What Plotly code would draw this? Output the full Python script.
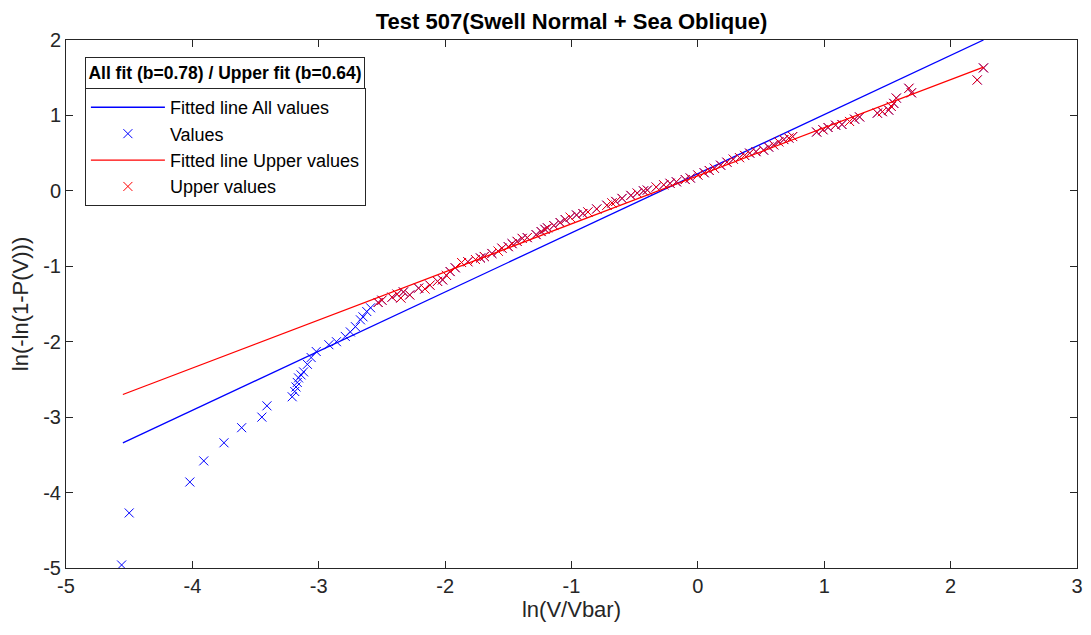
import plotly.graph_objects as go

# Weibull plot data
lower_x = [-4.56, -4.50, -4.02, -3.91, -3.75, -3.61, -3.45, -3.41, -3.21, -3.19,
           -3.18, -3.17, -3.16, -3.14, -3.12, -3.09, -3.06, -3.02, -2.92, -2.86,
           -2.79, -2.75, -2.71, -2.67, -2.65, -2.62, -2.59]
lower_y = [-4.96, -4.27, -3.86, -3.58, -3.34, -3.14, -3.00, -2.85, -2.73, -2.66,
           -2.60, -2.54, -2.48, -2.44, -2.40, -2.30, -2.21, -2.13, -2.04, -2.00,
           -1.93, -1.87, -1.80, -1.71, -1.67, -1.60, -1.55]

upper_x = [-2.53, -2.50, -2.42, -2.38, -2.35, -2.33, -2.28, -2.21, -2.16, -2.12,
           -2.06, -2.02, -1.99, -1.96, -1.92, -1.87, -1.82, -1.76, -1.72, -1.69,
           -1.63, -1.58, -1.55, -1.50, -1.47, -1.43, -1.39, -1.35, -1.28, -1.24,
           -1.21, -1.19, -1.14, -1.09, -1.05, -1.01, -0.96, -0.91, -0.87, -0.80,
           -0.72, -0.68, -0.65, -0.60, -0.53, -0.48, -0.43, -0.40, -0.33, -0.27,
           -0.22, -0.17, -0.10, -0.06, 0.00, 0.05, 0.09, 0.13, 0.18, 0.23,
           0.28, 0.33, 0.37, 0.41, 0.46, 0.52, 0.56, 0.60, 0.64, 0.68,
           0.72, 0.75, 0.94, 0.99, 1.03, 1.09, 1.14, 1.20, 1.24, 1.28,
           1.42, 1.46, 1.51, 1.53, 1.55, 1.57, 1.67, 1.69, 2.21, 2.26]
upper_y = [-1.48, -1.45, -1.41, -1.37, -1.42, -1.34, -1.38, -1.29, -1.30, -1.25,
           -1.20, -1.18, -1.12, -1.07, -1.02, -0.95, -0.94, -0.91, -0.89, -0.87,
           -0.83, -0.80, -0.76, -0.74, -0.70, -0.67, -0.63, -0.62, -0.58, -0.54,
           -0.51, -0.49, -0.46, -0.42, -0.38, -0.35, -0.32, -0.30, -0.28, -0.24,
           -0.19, -0.16, -0.14, -0.10, -0.06, -0.03, 0.00, 0.01, 0.05, 0.08,
           0.10, 0.12, 0.15, 0.17, 0.21, 0.24, 0.27, 0.30, 0.34, 0.38,
           0.42, 0.44, 0.47, 0.50, 0.52, 0.54, 0.58, 0.61, 0.65, 0.68,
           0.70, 0.72, 0.78, 0.81, 0.84, 0.87, 0.88, 0.92, 0.95, 0.98,
           1.03, 1.05, 1.07, 1.12, 1.16, 1.23, 1.36, 1.30, 1.47, 1.63]

# fitted lines (end points)
fit_x = [-4.55, 2.26]
fit_all_y = [-3.34, 2.00]
fit_upper_y = [-2.70, 1.64]

# tick labels (MATLAB style hyphen minus)
x_ticks = [-5, -4, -3, -2, -1, 0, 1, 2, 3]
x_labels = ["-5", "-4", "-3", "-2", "-1", "0", "1", "2", "3"]
y_ticks = [-5, -4, -3, -2, -1, 0, 1, 2]
y_labels = ["-5", "-4", "-3", "-2", "-1", "0", "1", "2"]

legend_title = "<b>All fit (b=0.78) / Upper fit (b=0.64)</b>"

all_x = lower_x + upper_x
all_y = lower_y + upper_y

font = "Liberation Sans, Arial, sans-serif"

fig = go.Figure()

fig.add_trace(go.Scatter(x=fit_x, y=fit_all_y, mode="lines", name="Fitted line All values",
                         line=dict(color="#0000ff", width=1.3)))
fig.add_trace(go.Scatter(x=all_x, y=all_y, mode="markers", name="Values",
                         marker=dict(symbol="x-thin", size=9, color="#0000ff",
                                     line=dict(color="#0000ff", width=1))))
fig.add_trace(go.Scatter(x=fit_x, y=fit_upper_y, mode="lines", name="Fitted line Upper values",
                         line=dict(color="#ff0000", width=1.3)))
fig.add_trace(go.Scatter(x=upper_x, y=upper_y, mode="markers", name="Upper values",
                         marker=dict(symbol="x-thin", size=9, color="#ff0000",
                                     line=dict(color="#ff0000", width=1))))

axis_style = dict(
    showgrid=False, zeroline=False, showline=True, linecolor="#262626", linewidth=1,
    mirror="ticks", ticks="inside", ticklen=7, tickcolor="#262626", automargin=False,
    ticklabeloverflow="allow",
    tickfont=dict(size=20, color="#262626", family=font),
)

# legend title as a boxed header sitting on top of the legend (like MATLAB)
fig.add_annotation(text=legend_title, xref="paper", yref="paper", x=0.0187, y=0.968,
                   xanchor="left", yanchor="top", showarrow=False, align="center",
                   width=278, height=30, borderpad=0, borderwidth=1, bordercolor="#262626",
                   bgcolor="white", font=dict(size=17.5, family=font, color="#000000"))

# page has an 8px body margin, so the figure is drawn smaller
fig.update_layout(
    width=1075, height=619,
    paper_bgcolor="white", plot_bgcolor="white",
    font=dict(family=font, color="#262626"),
    margin=dict(l=58, r=6, t=32, b=59),
    title=dict(text="<b>Test 507(Swell Normal + Sea Oblique)</b>", x=0.5, xanchor="center",
               xref="paper", y=0.978, yanchor="middle",
               font=dict(size=22, color="#000000", family=font)),
    xaxis=dict(range=[-5, 3], tickvals=x_ticks, ticktext=x_labels,
               title=dict(text="ln(V/Vbar)", font=dict(size=22, family=font), standoff=0),
               **axis_style),
    yaxis=dict(range=[-5, 2], tickvals=y_ticks, ticktext=y_labels,
               title=dict(text="ln(-ln(1-P(V)))", font=dict(size=22, family=font), standoff=8),
               **axis_style),
    legend=dict(
        x=0.0187, y=0.909, xanchor="left", yanchor="top",
        bgcolor="white", bordercolor="#262626", borderwidth=1,
        font=dict(size=18, family=font, color="#000000"),
        tracegroupgap=0, itemwidth=74,
    ),
)

fig.write_html("out.html")
